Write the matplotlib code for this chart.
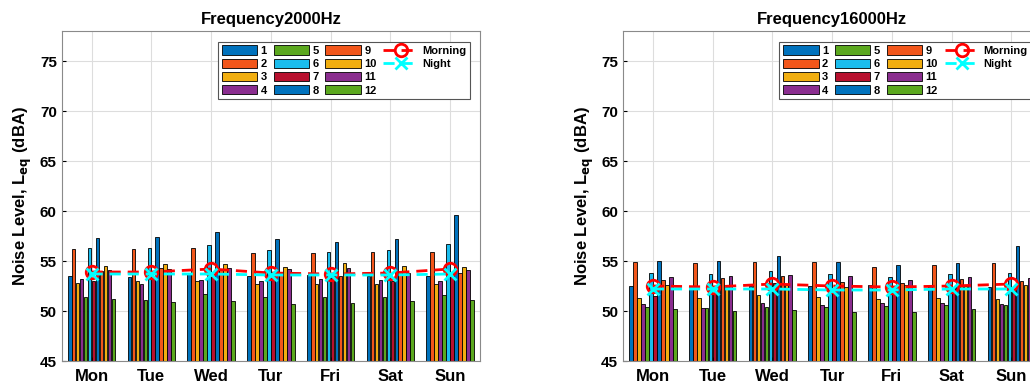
import numpy as np
import matplotlib
matplotlib.use("Agg")
import matplotlib.pyplot as plt
from matplotlib.patches import Patch
from matplotlib.lines import Line2D

days = ["Mon", "Tue", "Wed", "Tur", "Fri", "Sat", "Sun"]
series_names = [str(i) for i in range(1, 13)]

# noise level per series (rows) and day (columns), dBA
leq_2000 = np.array([
    [53.5, 53.4, 53.7, 53.5, 53.6, 53.5, 53.5],
    [56.2, 56.2, 56.3, 55.8, 55.8, 55.9, 55.9],
    [52.8, 53.0, 53.0, 52.7, 52.7, 52.7, 52.7],
    [53.2, 52.7, 53.1, 53.0, 53.2, 53.1, 53.0],
    [51.4, 51.1, 51.7, 51.4, 51.4, 51.4, 51.6],
    [56.3, 56.3, 56.6, 56.1, 55.9, 56.1, 56.7],
    [53.0, 53.3, 53.6, 53.6, 53.6, 53.0, 53.8],
    [57.3, 57.4, 57.9, 57.2, 56.9, 57.2, 59.6],
    [54.0, 54.3, 54.2, 53.7, 53.5, 53.9, 53.8],
    [54.5, 54.7, 54.7, 54.4, 54.8, 54.5, 54.4],
    [54.1, 54.2, 54.3, 54.2, 54.3, 53.8, 54.1],
    [51.2, 50.9, 51.0, 50.7, 50.8, 51.0, 51.1],
])
leq_16000 = np.array([
    [52.5, 52.2, 52.5, 52.5, 52.6, 52.5, 52.4],
    [54.9, 54.8, 54.9, 54.9, 54.4, 54.6, 54.8],
    [51.3, 51.3, 51.6, 51.4, 51.2, 51.3, 51.2],
    [50.7, 50.3, 50.8, 50.6, 50.8, 50.8, 50.7],
    [50.4, 50.3, 50.4, 50.4, 50.5, 50.6, 50.6],
    [53.8, 53.7, 54.0, 53.7, 53.4, 53.7, 53.8],
    [51.5, 51.8, 52.8, 52.1, 52.4, 52.4, 52.1],
    [55.0, 55.0, 55.5, 54.9, 54.6, 54.8, 56.5],
    [53.1, 53.3, 53.5, 52.9, 52.8, 53.2, 53.0],
    [52.6, 52.4, 52.6, 52.4, 52.6, 52.5, 52.6],
    [53.4, 53.5, 53.6, 53.5, 53.1, 53.4, 53.3],
    [50.2, 50.0, 50.1, 49.9, 49.9, 50.2, 50.2],
])
morning_2000 = [53.9, 53.9, 54.2, 53.8, 53.7, 53.8, 54.2]
night_2000 = [53.7, 53.7, 53.7, 53.6, 53.6, 53.6, 53.7]
morning_16000 = [52.5, 52.4, 52.7, 52.5, 52.4, 52.5, 52.7]
night_16000 = [52.2, 52.2, 52.2, 52.1, 52.1, 52.2, 52.2]

colors = ["#0072BD", "#F2561A", "#F1AE10", "#8A2D8F", "#5BA81E", "#1ABDEE",
          "#B8102E", "#0072BD", "#F2561A", "#F1AE10", "#8A2D8F", "#5BA81E"]

plt.rcParams["font.family"] = "Liberation Sans"
plt.rcParams["font.weight"] = "bold"

fig = plt.figure(figsize=(10.3, 3.88), dpi=100)
ax1 = fig.add_axes([61.7 / 1030, 1 - 361 / 388, 418.3 / 1030, 330 / 388])
ax2 = fig.add_axes([623 / 1030, 1 - 361 / 388, 418.3 / 1030, 330 / 388])

dash = (0, (4, 2.5))


def draw(ax, data, morning, night, title):
    x = np.arange(1, len(days) + 1)
    n = data.shape[0]
    slot = 0.8 / n
    for i in range(n):
        ax.bar(x + (i - (n - 1) / 2) * slot, data[i] - 45, slot * 0.92, bottom=45,
               color=colors[i], edgecolor="black", linewidth=0.6, zorder=2)
    ax.plot(x, morning, color="red", linestyle=dash, linewidth=2,
            marker="o", markersize=9, markerfacecolor="none", markeredgewidth=2, zorder=3)
    ax.plot(x, night, color="cyan", linestyle=dash, linewidth=2,
            marker="x", markersize=9, markeredgewidth=2, zorder=3)

    ax.set_xlim(0.5, 7.5)
    ax.set_ylim(45, 78)
    ax.set_xticks(x)
    ax.set_xticklabels(days, fontsize=12, fontweight="bold")
    ax.set_yticks(range(45, 80, 5))
    ax.tick_params(axis="y", labelsize=11, direction="in", length=3)
    ax.tick_params(axis="x", direction="in", length=3, pad=6)
    ax.grid(True, color="#dddddd", linewidth=0.8, zorder=0)
    ax.set_axisbelow(True)
    for s in ax.spines.values():
        s.set_color("#8a8a8a")
    ax.set_title(title, fontsize=12, fontweight="bold", pad=5)
    ax.set_ylabel("Noise Level, L$_{\\mathbf{eq}}$ (dBA)", fontsize=12, fontweight="bold")

    # legend: three columns of bar series, then Morning/Night in a fourth column
    handles = [Patch(facecolor=colors[i], edgecolor="black", linewidth=0.6) for i in range(n)]
    handles += [Line2D([], [], color="red", linestyle=dash, linewidth=2, marker="o",
                       markersize=9, markerfacecolor="none", markeredgewidth=2),
                Line2D([], [], color="cyan", linestyle=dash, linewidth=2, marker="x",
                       markersize=9, markeredgewidth=2),
                Line2D([], [], linestyle="none"),
                Line2D([], [], linestyle="none")]
    labels = series_names + ["Morning", "Night", "", ""]
    leg = ax.legend(handles, labels, ncol=4, loc="upper right", bbox_to_anchor=(0.99, 0.985),
                    prop={"weight": "bold", "size": 8},
                    handlelength=3.2, handleheight=0.9, handletextpad=0.3, columnspacing=0.6,
                    labelspacing=0.25, borderpad=0.35, fancybox=False, framealpha=1)
    leg.get_frame().set_edgecolor("#555555")
    leg.get_frame().set_linewidth(0.8)


draw(ax1, leq_2000, morning_2000, night_2000, "Frequency2000Hz")
draw(ax2, leq_16000, morning_16000, night_16000, "Frequency16000Hz")

fig.savefig("out.png", dpi=100)
